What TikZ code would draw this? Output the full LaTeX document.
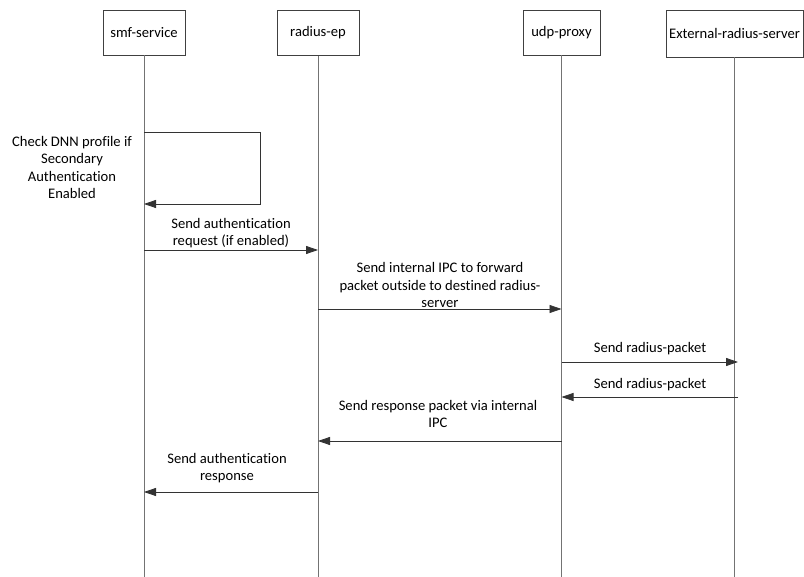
\documentclass[tikz,border=0pt]{standalone}
\usepackage{fontspec}
\setmainfont{Carlito}[Ligatures={NoCommon}]
\usetikzlibrary{arrows.meta}
\begin{document}
\begin{tikzpicture}[x=1pt,y=-1pt,
  actor/.style={draw=black!75,line width=0.8pt,minimum height=45pt,inner sep=0pt,font=\fontsize{14.6}{17}\selectfont},
  life/.style={draw=black!55,line width=0.9pt},
  msg/.style={draw=black!80,line width=0.8pt,-{Triangle[length=12pt,width=8pt]}},
  lbl/.style={align=center,inner sep=0pt,font=\fontsize{14.6}{17.6}\selectfont,anchor=base}]
\useasboundingbox (0,0) rectangle (804,577);
\fill[white] (0,0) rectangle (804,577);
% actors
\node[actor,minimum width=82pt] (smf) at (144,32.5) {smf-service};
\node[actor,minimum width=82pt] (rep) at (318,33) {radius-ep};
\node[actor,minimum width=77pt] (udp) at (561.5,32.5) {udp-proxy};
\node[actor,minimum width=137pt,minimum height=47pt] (ext) at (734.5,33.5) {External-radius-server};
% lifeline ends
\coordinate (smfE) at (smf.south |- 0,577);
\coordinate (repE) at (rep.south |- 0,577);
\coordinate (udpE) at (udp.south |- 0,577);
\coordinate (extE) at (ext.south |- 0,577);
\draw[life] (smf.south) -- (smfE);
\draw[life] (rep.south) -- (repE);
\draw[life] (udp.south) -- (udpE);
\draw[life] (ext.south) -- (extE);
% event points
\coordinate (l0a) at (144,132);
\coordinate (l0b) at (260,132);
\coordinate (l0c) at (260,204);
\coordinate (l0d) at (144,204);
\coordinate (m1a) at (144,250); \coordinate (m1b) at (318,250);
\coordinate (m2a) at (318,309); \coordinate (m2b) at (561.5,309);
\coordinate (m3a) at (561.5,362); \coordinate (m3b) at (738,362);
\coordinate (m4a) at (738,397); \coordinate (m4b) at (561.5,397);
\coordinate (m5a) at (561.5,441); \coordinate (m5b) at (318,441);
\coordinate (m6a) at (318,492); \coordinate (m6b) at (144,492);
% self loop
\draw[msg] (l0a) -- (l0b) -- (l0c) -- (l0d);
\node[lbl] (t0) at (72,199) {Check DNN profile if\\Secondary\\Authentication\\Enabled};
% messages
\draw[msg] (m1a) -- (m1b);
\node[lbl] (t1) at (231,246) {Send authentication\\request (if enabled)};
\draw[msg] (m2a) -- (m2b);
\node[lbl] (t2) at (440,308) {Send internal IPC to forward\\packet outside to destined radius-\\server};
\draw[msg] (m3a) -- (m3b);
\node[lbl] (t3) at (650,353) {Send radius-packet};
\draw[msg] (m4a) -- (m4b);
\node[lbl] (t4) at (650,389) {Send radius-packet};
\draw[msg] (m5a) -- (m5b);
\node[lbl] (t5) at (438,428) {Send response packet via internal\\IPC};
\draw[msg] (m6a) -- (m6b);
\node[lbl] (t6) at (227,481) {Send authentication\\response};
\end{tikzpicture}
\end{document}
